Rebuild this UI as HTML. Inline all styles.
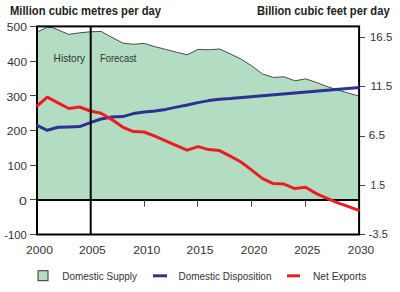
<!DOCTYPE html>
<html><head><meta charset="utf-8"><style>
html,body{margin:0;padding:0;background:#fff;width:400px;height:292px;overflow:hidden}
svg{display:block}
text{font-family:"Liberation Sans",sans-serif}
</style></head><body>
<svg width="400" height="292" viewBox="0 0 400 292">
<text x="10.00" y="15.00" font-size="12" font-weight="bold" text-anchor="start" style="fill:#231f20" textLength="150.98" lengthAdjust="spacingAndGlyphs">Million cubic metres per day</text>
<text x="389.70" y="15.00" font-size="12" font-weight="bold" text-anchor="end" style="fill:#231f20" textLength="132.75" lengthAdjust="spacingAndGlyphs">Billion cubic feet per day</text>
<path d="M36.50,199.9 L36.50,32.20 47.26,27.30 52.64,27.60 68.79,34.40 79.55,32.80 90.32,31.80 101.08,31.40 111.84,37.30 122.61,43.00 133.37,44.30 144.13,43.40 154.90,46.70 165.66,49.40 176.42,52.20 187.19,54.80 197.95,49.40 208.71,49.80 219.48,49.00 230.24,53.80 241.00,59.10 251.77,65.90 262.53,74.00 273.29,77.40 284.06,76.80 294.82,80.80 305.58,78.90 316.35,82.40 327.11,86.60 337.87,90.00 348.64,93.20 359.40,96.20 L359.40,199.9 Z" fill="#b3ddc2"/>
<path d="M36.50,32.20 47.26,27.30 52.64,27.60 68.79,34.40 79.55,32.80 90.32,31.80 101.08,31.40 111.84,37.30 122.61,43.00 133.37,44.30 144.13,43.40 154.90,46.70 165.66,49.40 176.42,52.20 187.19,54.80 197.95,49.40 208.71,49.80 219.48,49.00 230.24,53.80 241.00,59.10 251.77,65.90 262.53,74.00 273.29,77.40 284.06,76.80 294.82,80.80 305.58,78.90 316.35,82.40 327.11,86.60 337.87,90.00 348.64,93.20 359.40,96.20" fill="none" stroke="#4a4a4a" stroke-width="1"/>
<line x1="37" y1="199.9" x2="359.1" y2="199.9" stroke="#000" stroke-width="2"/>
<g stroke="#444" stroke-width="1"><line x1="30" y1="234.50" x2="37" y2="234.50"/><line x1="30" y1="199.50" x2="37" y2="199.50"/><line x1="30" y1="165.50" x2="37" y2="165.50"/><line x1="30" y1="130.50" x2="37" y2="130.50"/><line x1="30" y1="95.50" x2="37" y2="95.50"/><line x1="30" y1="61.50" x2="37" y2="61.50"/><line x1="30" y1="26.50" x2="37" y2="26.50"/><line x1="359" y1="37.50" x2="365" y2="37.50"/><line x1="359" y1="86.50" x2="365" y2="86.50"/><line x1="359" y1="136.50" x2="365" y2="136.50"/><line x1="359" y1="185.50" x2="365" y2="185.50"/><line x1="359" y1="234.50" x2="365" y2="234.50"/><line x1="144.50" y1="199.9" x2="144.50" y2="206.7"/><line x1="197.50" y1="199.9" x2="197.50" y2="206.7"/><line x1="251.50" y1="199.9" x2="251.50" y2="206.7"/><line x1="305.50" y1="199.9" x2="305.50" y2="206.7"/></g>
<rect x="37" y="26.4" width="322.1" height="208.1" stroke="#000" stroke-width="2" fill="none"/>
<polyline points="36.50,125.20 47.26,130.30 58.03,127.20 68.79,126.90 79.55,126.60 90.32,122.60 101.08,119.00 111.84,117.10 122.61,116.60 133.37,113.60 144.13,112.10 154.90,110.90 165.66,109.40 176.42,107.10 187.19,105.00 197.95,102.60 208.71,100.60 219.48,99.20 230.24,98.60 359.40,87.60" fill="none" stroke="#2e3192" stroke-width="3" stroke-linejoin="round"/>
<polyline points="36.50,106.50 47.26,97.20 58.03,102.90 68.79,108.50 79.55,107.00 90.32,111.00 101.08,113.20 111.84,119.60 122.61,127.10 133.37,131.60 144.13,132.00 154.90,136.10 165.66,140.90 176.42,145.60 187.19,150.20 197.95,146.60 208.71,149.60 219.48,150.60 230.24,156.10 241.00,162.00 251.77,170.10 262.53,178.60 273.29,183.60 284.06,184.10 294.82,188.60 305.58,187.20 316.35,193.60 327.11,198.40 337.87,202.90 348.64,206.70 359.40,210.60" fill="none" stroke="#ed1c24" stroke-width="3" stroke-linejoin="round"/>
<line x1="90.7" y1="26.4" x2="90.7" y2="234.5" stroke="#000" stroke-width="2"/>
<text x="26.80" y="238.72" font-size="10.8" font-weight="normal" text-anchor="end" style="fill:#333" textLength="22.6" lengthAdjust="spacingAndGlyphs">-100</text><text x="26.80" y="204.70" font-size="10.8" font-weight="normal" text-anchor="end" style="fill:#333" textLength="7.84" lengthAdjust="spacingAndGlyphs">0</text><text x="26.94" y="169.50" font-size="10.8" font-weight="normal" text-anchor="end" style="fill:#333" textLength="19.42" lengthAdjust="spacingAndGlyphs">100</text><text x="26.94" y="134.88" font-size="10.8" font-weight="normal" text-anchor="end" style="fill:#333" textLength="20.26" lengthAdjust="spacingAndGlyphs">200</text><text x="26.94" y="100.52" font-size="10.8" font-weight="normal" text-anchor="end" style="fill:#333" textLength="20.54" lengthAdjust="spacingAndGlyphs">300</text><text x="27.08" y="65.60" font-size="10.8" font-weight="normal" text-anchor="end" style="fill:#333" textLength="19.84" lengthAdjust="spacingAndGlyphs">400</text><text x="26.94" y="30.50" font-size="10.8" font-weight="normal" text-anchor="end" style="fill:#333" textLength="20.12" lengthAdjust="spacingAndGlyphs">500</text><text x="370.00" y="40.89" font-size="10.8" font-weight="normal" text-anchor="start" style="fill:#333" textLength="22.28" lengthAdjust="spacingAndGlyphs">16.5</text><text x="370.42" y="90.23" font-size="10.8" font-weight="normal" text-anchor="start" style="fill:#333" textLength="21.76" lengthAdjust="spacingAndGlyphs">11.5</text><text x="368.74" y="139.37" font-size="10.8" font-weight="normal" text-anchor="start" style="fill:#333" textLength="16.42" lengthAdjust="spacingAndGlyphs">6.5</text><text x="370.56" y="189.21" font-size="10.8" font-weight="normal" text-anchor="start" style="fill:#333" textLength="14.6" lengthAdjust="spacingAndGlyphs">1.5</text><text x="368.88" y="237.67" font-size="10.8" font-weight="normal" text-anchor="start" style="fill:#333" textLength="18.89" lengthAdjust="spacingAndGlyphs">-3.5</text><text x="39.55" y="254.32" font-size="10.8" font-weight="normal" text-anchor="middle" style="fill:#333" textLength="26.83" lengthAdjust="spacingAndGlyphs">2000</text><text x="92.42" y="254.32" font-size="10.8" font-weight="normal" text-anchor="middle" style="fill:#333" textLength="26.83" lengthAdjust="spacingAndGlyphs">2005</text><text x="146.77" y="254.32" font-size="10.8" font-weight="normal" text-anchor="middle" style="fill:#333" textLength="27.16" lengthAdjust="spacingAndGlyphs">2010</text><text x="200.05" y="254.32" font-size="10.8" font-weight="normal" text-anchor="middle" style="fill:#333" textLength="26.83" lengthAdjust="spacingAndGlyphs">2015</text><text x="254.06" y="254.32" font-size="10.8" font-weight="normal" text-anchor="middle" style="fill:#333" textLength="26.46" lengthAdjust="spacingAndGlyphs">2020</text><text x="307.33" y="254.32" font-size="10.8" font-weight="normal" text-anchor="middle" style="fill:#333" textLength="26.13" lengthAdjust="spacingAndGlyphs">2025</text><text x="361.01" y="254.32" font-size="10.8" font-weight="normal" text-anchor="middle" style="fill:#333" textLength="26.41" lengthAdjust="spacingAndGlyphs">2030</text>
<text x="53.60" y="62.00" font-size="10.5" font-weight="normal" text-anchor="start" style="fill:#333" textLength="31.47" lengthAdjust="spacingAndGlyphs">History</text>
<text x="100.00" y="62.00" font-size="10.5" font-weight="normal" text-anchor="start" style="fill:#333" textLength="36.46" lengthAdjust="spacingAndGlyphs">Forecast</text>
<rect x="38" y="270.7" width="10" height="10" fill="#b3ddc2" stroke="#333" stroke-width="1"/>
<text x="62.20" y="280.00" font-size="10.5" font-weight="normal" text-anchor="start" style="fill:#333" textLength="74.78" lengthAdjust="spacingAndGlyphs">Domestic Supply</text>
<line x1="153" y1="275.8" x2="167" y2="275.8" stroke="#2e3192" stroke-width="3"/>
<text x="178.60" y="280.00" font-size="10.5" font-weight="normal" text-anchor="start" style="fill:#333" textLength="92.85" lengthAdjust="spacingAndGlyphs">Domestic Disposition</text>
<line x1="287" y1="275.8" x2="300" y2="275.8" stroke="#ed1c24" stroke-width="3"/>
<text x="313.00" y="280.00" font-size="10.5" font-weight="normal" text-anchor="start" style="fill:#333" textLength="53.26" lengthAdjust="spacingAndGlyphs">Net Exports</text>
</svg>
</body></html>
